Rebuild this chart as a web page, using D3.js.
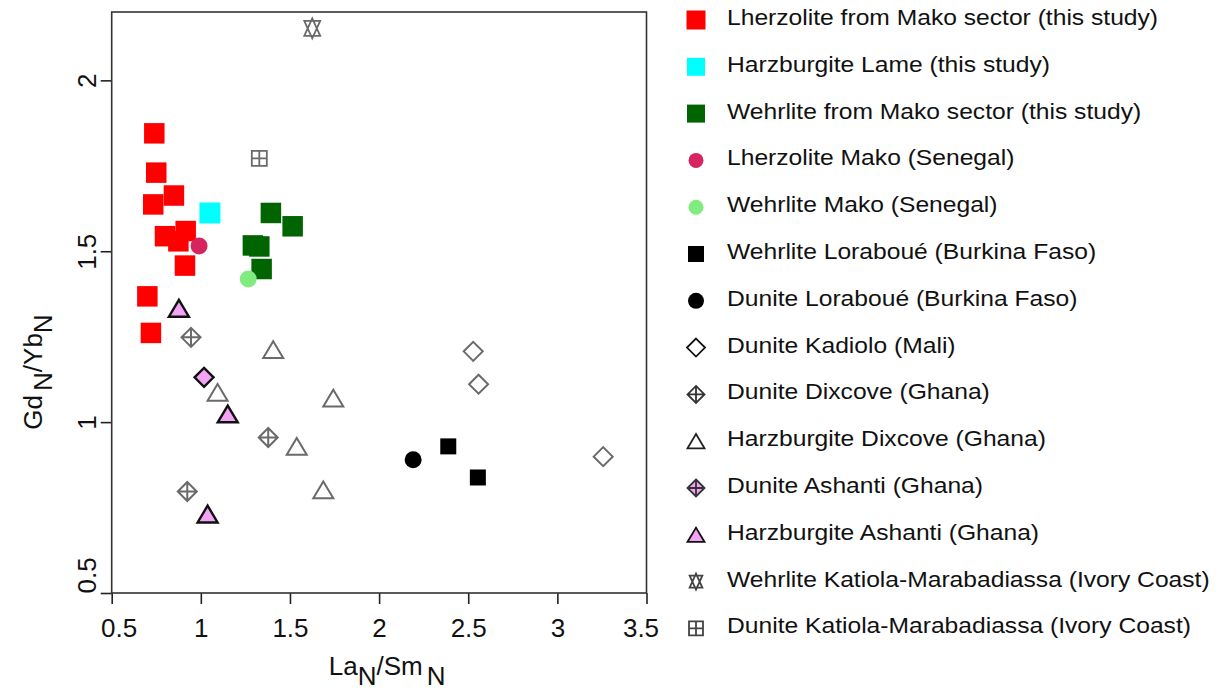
<!DOCTYPE html>
<html><head><meta charset="utf-8">
<script src="https://cdn.jsdelivr.net/npm/d3@7"></script>
<style>
html,body{margin:0;padding:0;background:#fff;}
svg{display:block;font-family:"Liberation Sans",Arial,sans-serif;}
</style></head>
<body><svg id="chart" width="1224" height="693"></svg>
<script>
// ---- data ----
const seriesNames = [
  "Lherzolite from Mako sector (this study)",
  "Harzburgite Lame (this study)",
  "Wehrlite from Mako sector (this study)",
  "Lherzolite Mako (Senegal)",
  "Wehrlite Mako (Senegal)",
  "Wehrlite Loraboué (Burkina Faso)",
  "Dunite Loraboué (Burkina Faso)",
  "Dunite Kadiolo (Mali)",
  "Dunite Dixcove (Ghana)",
  "Harzburgite Dixcove (Ghana)",
  "Dunite Ashanti (Ghana)",
  "Harzburgite Ashanti (Ghana)",
  "Wehrlite Katiola-Marabadiassa (Ivory Coast)",
  "Dunite Katiola-Marabadiassa (Ivory Coast)"
];
const lherzMakoX = [0.739,0.750,0.849,0.733,0.799,0.915,0.874,0.911,0.700,0.720];
const lherzMakoY = [1.845,1.730,1.663,1.637,1.544,1.559,1.529,1.458,1.368,1.261];
const harzLameX = [1.051];
const harzLameY = [1.612];
const wehrMakoX = [1.393,1.515,1.292,1.328,1.341];
const wehrMakoY = [1.612,1.573,1.517,1.514,1.448];
const lherzSenX = [0.990];
const lherzSenY = [1.515];
const wehrSenX = [1.266];
const wehrSenY = [1.419];
const wehrLorX = [2.388,2.554];
const wehrLorY = [0.929,0.838];
const dunLorX = [2.191];
const dunLorY = [0.890];
const dunKadX = [2.528,2.558,3.257];
const dunKadY = [1.207,1.111,0.899];
const dunDixX = [0.945,1.378,0.924];
const dunDixY = [1.248,0.955,0.797];
const harzDixX = [1.406,1.094,1.743,1.538,1.687];
const harzDixY = [1.212,1.087,1.070,0.929,0.802];
const dunAshX = [1.018];
const dunAshY = [1.131];
const harzAshX = [0.877,1.151,1.038];
const harzAshY = [1.333,1.024,0.731];
const wehrKatX = [1.625];
const wehrKatY = [2.152];
const dunKatX = [1.328];
const dunKatY = [1.772];
const xTicks = [0.5,1,1.5,2,2.5,3,3.5];
const yTicks = [0.5,1,1.5,2];

// ---- styles ----
const GRAY = "#6a6a6a", PINK = "#f3a3f3";
const styles = [
  {shape:"square", fill:"#ff0000", stroke:"none", sw:0, size:20.5, lsize:19},
  {shape:"square", fill:"#00ffff", stroke:"none", sw:0, size:21, lsize:18},
  {shape:"square", fill:"#006400", stroke:"none", sw:0, size:20.5, lsize:18},
  {shape:"circle", fill:"#d5245e", stroke:"none", sw:0, size:17, lsize:15},
  {shape:"circle", fill:"#80ec80", stroke:"none", sw:0, size:17, lsize:15},
  {shape:"square", fill:"#000", stroke:"none", sw:0, size:16, lsize:16},
  {shape:"circle", fill:"#000", stroke:"none", sw:0, size:17, lsize:16},
  {shape:"diamond", fill:"#fff", stroke:GRAY, sw:2, size:19, lsize:18, lstroke:"#111"},
  {shape:"diamondPlus", fill:"#fff", stroke:GRAY, sw:2, size:19, lsize:17, lstroke:"#333"},
  {shape:"triangle", fill:"#fff", stroke:GRAY, sw:2, size:20, lsize:17, lstroke:"#222"},
  {shape:"diamond", lshape:"diamondPlus", fill:PINK, stroke:"#111", sw:2.4, size:19, lsize:17, lstroke:"#333"},
  {shape:"triangle", fill:PINK, stroke:"#111", sw:2.4, size:20, lsize:17},
  {shape:"star", fill:"none", stroke:GRAY, sw:1.8, size:20, lsize:16, lstroke:"#444"},
  {shape:"gridSquare", fill:"#fff", stroke:GRAY, sw:1.8, size:15, lsize:14, lstroke:"#444"}
];
const seriesX = [lherzMakoX,harzLameX,wehrMakoX,lherzSenX,wehrSenX,wehrLorX,dunLorX,dunKadX,dunDixX,harzDixX,dunAshX,harzAshX,wehrKatX,dunKatX];
const seriesY = [lherzMakoY,harzLameY,wehrMakoY,lherzSenY,wehrSenY,wehrLorY,dunLorY,dunKadY,dunDixY,harzDixY,dunAshY,harzAshY,wehrKatY,dunKatY];

function shapePath(shape, s){
  const h = s/2;
  switch(shape){
    case "square": return `M${-h},${-h}H${h}V${h}H${-h}Z`;
    case "gridSquare": return `M${-h},${-h}H${h}V${h}H${-h}Z M0,${-h}V${h} M${-h},0H${h}`;
    case "circle": return `M${h},0A${h},${h} 0 1,1 ${-h},0A${h},${h} 0 1,1 ${h},0Z`;
    case "diamond": return `M0,${-h}L${h},0L0,${h}L${-h},0Z`;
    case "diamondPlus": return `M0,${-h}L${h},0L0,${h}L${-h},0Z M0,${-h}V${h} M${-h},0H${h}`;
    case "triangle": { const th = s*0.84/2; return `M0,${-th}L${h},${th}L${-h},${th}Z`; }
    case "star": { const r = h, hw = 0.866*r*0.92, yb = 0.75*r;
      return `M0,${-r}L${hw},${yb}H${-hw}Z M0,${r}L${hw},${-yb}H${-hw}Z`; }
  }
}

const svg = d3.select("#chart");
const L = 111.7, R = 646.5, T = 12, B = 593;
const x = d3.scaleLinear().domain([0.5,3.5]).range([L,R]);
const y = d3.scaleLinear().domain([0.5,2.2]).range([B,T]);

// axes
const xAxis = svg.append("g").attr("transform",`translate(0,${B})`)
  .call(d3.axisBottom(x).tickValues(xTicks).tickSize(11).tickSizeOuter(0).tickFormat(d3.format("")));
xAxis.select(".domain").remove();
xAxis.selectAll(".tick line").attr("stroke","#222").attr("stroke-width",1.6);
xAxis.selectAll(".tick text").attr("fill","#111").attr("font-size",26).attr("y",44).attr("dy",0)
  .attr("dx",(d)=> d===0.5?7:(d===3.5?-6:0));

const yAxis = svg.append("g").attr("transform",`translate(${L},0)`)
  .call(d3.axisLeft(y).tickValues(yTicks).tickSize(11).tickSizeOuter(0).tickFormat(d3.format("")));
yAxis.select(".domain").remove();
yAxis.selectAll(".tick line").attr("stroke","#222").attr("stroke-width",1.6);
yAxis.selectAll(".tick text").attr("fill","#111").attr("font-size",26)
  .attr("x",null).attr("dy",null)
  .attr("text-anchor",(d)=> d===0.5?"start":"middle")
  .attr("transform","translate(-16,0) rotate(-90)");

// frame
svg.append("rect").attr("x",L).attr("y",T).attr("width",R-L).attr("height",B-T)
  .attr("fill","none").attr("stroke","#333").attr("stroke-width",1.6);

// axis titles
const xt = svg.append("text").attr("x",(L+R)/2+8).attr("y",675).attr("text-anchor","middle")
  .attr("font-size",26).attr("fill","#111");
xt.append("tspan").text("La");
xt.append("tspan").attr("dy",10).text("N");
xt.append("tspan").attr("dy",-10).text("/Sm");
xt.append("tspan").attr("dy",10).attr("dx",4).text("N");

const yt = svg.append("text").attr("transform",`translate(42,${372}) rotate(-90)`).attr("text-anchor","middle")
  .attr("font-size",26).attr("fill","#111");
yt.append("tspan").text("Gd");
yt.append("tspan").attr("dy",10).attr("dx",4).text("N");
yt.append("tspan").attr("dy",-10).text("/Yb");
yt.append("tspan").attr("dy",10).text("N");

// points
const plot = svg.append("g");
styles.forEach((st,i)=>{
  const pts = seriesX[i].map((v,j)=>({x:v,y:seriesY[i][j]}));
  plot.append("g").selectAll("path").data(pts).join("path")
    .attr("transform",d=>`translate(${x(d.x)},${y(d.y)})`)
    .attr("d",shapePath(st.shape, st.size))
    .attr("fill",st.fill).attr("stroke",st.stroke).attr("stroke-width",st.sw)
    .attr("stroke-linejoin","miter");
});

// legend
const lg = svg.append("g");
const row0 = 17, step = 46.8;
seriesNames.forEach((name,i)=>{
  const st = styles[i];
  const cy = row0 + i*step;
  lg.append("path").attr("transform",`translate(696,${cy+3})`)
    .attr("d",shapePath(st.lshape||st.shape, st.lsize))
    .attr("fill",st.fill).attr("stroke",st.lstroke||st.stroke).attr("stroke-width",st.sw ? Math.min(st.sw,1.8) : 0);
  lg.append("text").attr("transform",`translate(727,${cy+8}) scale(1.1,1)`)
    .attr("font-size",22.4).attr("fill","#111").text(name);
});
</script></body></html>
